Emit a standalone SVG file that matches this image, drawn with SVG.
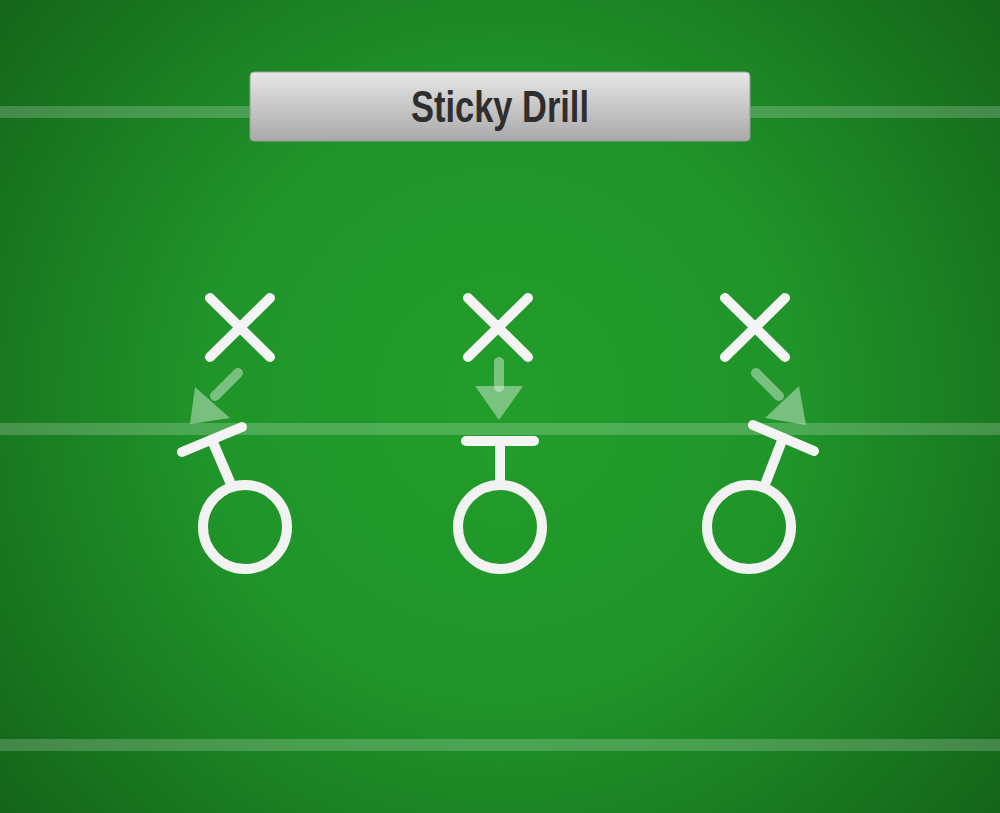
<svg xmlns="http://www.w3.org/2000/svg" width="1000" height="813" viewBox="0 0 1000 813">
<defs>
<radialGradient id="bg" cx="500" cy="400" r="650" gradientUnits="userSpaceOnUse">
<stop offset="0" stop-color="#229d2a"/>
<stop offset="0.45" stop-color="#20952a"/>
<stop offset="1" stop-color="#146419"/>
</radialGradient>
<linearGradient id="title" x1="0" y1="0" x2="0" y2="1">
<stop offset="0" stop-color="#e6e6e6"/>
<stop offset="1" stop-color="#a9a9ab"/>
</linearGradient>
<style>
.field{fill:#ffffff;fill-opacity:0.2}
.mark{stroke:#f4f4f4;stroke-width:10;stroke-linecap:round;fill:none}
.ring{stroke:#f2f2f2;stroke-width:10;fill:none}
.shaft{stroke:#ffffff;stroke-opacity:0.4;stroke-width:10;stroke-linecap:round;fill:none}
.head{fill:#ffffff;fill-opacity:0.4}
.ttl{font-family:"Liberation Sans",Arial,sans-serif;font-size:45px;font-weight:bold;fill:#2e2e2e;text-anchor:middle}
</style>
</defs>
<rect width="1000" height="813" fill="url(#bg)"/>
<g id="field-lines">
<rect class="field" x="0" y="106" width="1000" height="12"/>
<rect class="field" x="0" y="423" width="1000" height="12"/>
<rect class="field" x="0" y="739" width="1000" height="12"/>
</g>
<g id="title-box">
<rect x="250" y="72" width="500" height="69" rx="4" fill="url(#title)" stroke="#9a9a9a" stroke-width="1"/>
<text class="ttl" x="500" y="122" textLength="178" lengthAdjust="spacingAndGlyphs">Sticky Drill</text>
</g>
<g id="defender-left">
<line class="mark" x1="210" y1="298" x2="270" y2="357"/>
<line class="mark" x1="270" y1="298" x2="210" y2="357"/>
</g>
<g id="defender-center">
<line class="mark" x1="468" y1="298" x2="528" y2="357"/>
<line class="mark" x1="528" y1="298" x2="468" y2="357"/>
</g>
<g id="defender-right">
<line class="mark" x1="725" y1="298" x2="785" y2="357"/>
<line class="mark" x1="785" y1="298" x2="725" y2="357"/>
</g>
<g id="player-left">
<line class="mark" x1="182" y1="452" x2="242" y2="427"/>
<line class="mark" x1="212" y1="440" x2="230" y2="482"/>
<circle class="ring" cx="245" cy="527" r="42"/>
</g>
<g id="player-center">
<line class="mark" x1="466" y1="441" x2="534" y2="441"/>
<line class="mark" x1="500" y1="441" x2="500" y2="482"/>
<circle class="ring" cx="500" cy="527" r="42"/>
</g>
<g id="player-right">
<line class="mark" x1="753" y1="425" x2="814" y2="451"/>
<line class="mark" x1="783" y1="438" x2="766" y2="482"/>
<circle class="ring" cx="749" cy="527" r="42"/>
</g>
<g id="connectors">
<line class="shaft" x1="238" y1="373" x2="215" y2="396"/>
<polygon class="head" points="190,424 195,387 230,418"/>
<line class="shaft" x1="499" y1="362" x2="499" y2="387"/>
<polygon class="head" points="475,386 523,386 499,420"/>
<line class="shaft" x1="756" y1="373" x2="779" y2="396"/>
<polygon class="head" points="806,425 799,386 765,418"/>
</g>
</svg>
